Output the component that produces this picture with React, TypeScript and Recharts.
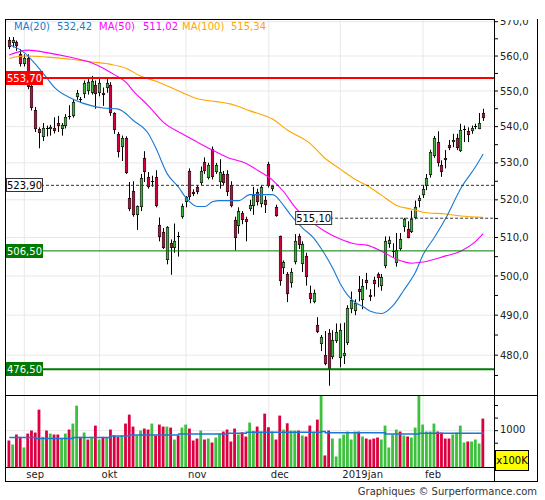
import React from "react";
import {
  Bar,
  CartesianGrid,
  ComposedChart,
  Line,
  ReferenceLine,
  XAxis,
  YAxis,
} from "recharts";

const FONT = '"DejaVu Sans", Verdana, sans-serif';
const PLOT_RIGHT = 494;

const CANDLE_GREEN = "#3cb43c";
const CANDLE_RED = "#d2003c";
const VOL_GREEN = "#3dc03d";
const VOL_RED = "#dc0040";
const MA20_COLOR = "#1a78d4";
const MA50_COLOR = "#ff00ff";
const MA100_COLOR = "#ffa500";

// trading sessions shown, late Aug 2018 -> Feb 2019
const sessions: [string, number[]][] = [
  ["2018-08", [28, 29, 30, 31]],
  ["2018-09", [3, 4, 5, 6, 7, 10, 11, 12, 13, 14, 17, 18, 19, 20, 21, 24, 25, 26, 27, 28]],
  ["2018-10", [1, 2, 3, 4, 5, 8, 9, 10, 11, 12, 15, 16, 17, 18, 19, 22, 23, 24, 25, 26, 29, 30, 31]],
  ["2018-11", [1, 2, 5, 6, 7, 8, 9, 12, 13, 14, 15, 16, 19, 20, 21, 22, 23, 26, 27, 28, 29, 30]],
  ["2018-12", [3, 4, 5, 6, 7, 10, 11, 12, 13, 14, 17, 18, 19, 20, 21, 24, 27, 28, 31]],
  ["2019-01", [2, 3, 4, 7, 8, 9, 10, 11, 14, 15, 16, 17, 18, 21, 22, 23, 24, 25, 28, 29, 30, 31]],
  ["2019-02", [1, 4, 5, 6, 7, 8, 11, 12, 13, 14, 15, 18, 19, 20, 21, 22, 25]],
];
const dates = sessions.flatMap(([m, days]) =>
  days.map((d) => `${m}-${String(d).padStart(2, "0")}`),
);

const monthStarts = ["2018-09-03", "2018-10-01", "2018-11-01", "2018-12-03", "2019-01-02", "2019-02-01"];
const monthLabels = ["sep", "okt", "nov", "dec", "2019jan", "feb"];

const opens = [
  564.7, 563.8, 564.0, 560.7, 557.8, 559.5, 551.4, 544.7, 539.3, 537.0,
  539.7, 539.3, 539.6, 541.1, 539.4, 540.2, 542.6, 543.1, 548.3, 547.8,
  549.2, 550.0, 549.5, 551.7, 549.5, 549.5, 550.8, 551.6, 543.7, 538.0,
  534.3, 536.9, 520.5, 522.5, 516.0, 518.2, 531.2, 526.1, 524.8, 526.1,
  513.3, 511.5, 504.1, 508.5, 507.3, 510.4, 515.4, 519.3, 527.9, 522.0,
  523.4, 524.6, 530.3, 525.9, 533.9, 527.6, 524.8, 527.1, 527.1, 524.0,
  514.6, 513.0, 516.4, 514.8, 517.5, 518.4, 522.0, 518.9, 520.0, 529.8,
  522.8, 518.2, 510.3, 502.0, 500.5, 498.1, 503.5, 510.5, 503.0, 505.2,
  495.7, 493.4, 487.6, 482.7, 480.0, 485.6, 479.6, 483.4, 479.4, 479.9,
  483.0, 491.5, 491.0, 496.6, 493.8, 499.0, 495.2, 499.0, 500.5, 497.5,
  502.6, 508.3, 506.3, 503.4, 507.1, 512.7, 512.2, 511.4, 515.2, 519.6,
  521.2, 523.6, 526.7, 532.0, 535.8, 529.4, 531.2, 534.9, 535.6, 536.9,
  533.3, 539.1, 538.9, 538.8, 540.0, 539.3, 543.7,
];
const highs = [
  565.5, 565.5, 564.5, 562.0, 560.5, 560.5, 551.8, 545.5, 539.8, 541.0,
  540.3, 540.5, 542.6, 543.0, 541.0, 543.5, 546.0, 547.5, 550.3, 548.3,
  553.0, 554.0, 554.3, 553.0, 553.5, 551.0, 553.8, 552.5, 544.0, 538.5,
  537.5, 537.3, 524.8, 525.0, 518.5, 527.0, 533.2, 527.5, 526.5, 528.0,
  515.3, 512.5, 513.0, 509.5, 513.7, 511.5, 519.0, 521.0, 528.5, 522.8,
  524.0, 529.0, 531.5, 530.0, 534.5, 530.0, 531.0, 527.8, 528.0, 525.0,
  515.5, 518.0, 517.0, 515.5, 520.0, 523.5, 523.0, 524.0, 521.0, 530.3,
  524.0, 518.7, 510.5, 504.0, 501.0, 502.0, 510.9, 511.0, 509.0, 506.0,
  497.5, 496.5, 489.5, 485.0, 486.0, 486.5, 486.2, 487.9, 487.9, 488.1,
  492.5, 496.0, 494.0, 500.0, 499.2, 500.8, 496.6, 499.8, 500.9, 500.5,
  510.3, 510.3, 508.5, 511.2, 511.2, 515.2, 514.3, 517.1, 519.8, 521.2,
  524.0, 527.0, 533.6, 537.4, 538.7, 530.7, 533.5, 536.3, 538.0, 538.0,
  540.8, 540.3, 539.8, 540.3, 540.8, 543.8, 545.0,
];
const lows = [
  562.0, 562.5, 561.5, 557.0, 557.0, 550.5, 544.5, 538.5, 534.0, 536.0,
  537.3, 537.5, 538.1, 538.5, 537.5, 539.5, 542.0, 542.5, 547.5, 546.7,
  548.0, 549.0, 549.0, 545.0, 548.5, 545.8, 549.5, 543.0, 538.0, 531.5,
  530.5, 527.0, 517.0, 515.5, 512.0, 517.0, 524.8, 523.0, 523.5, 518.0,
  509.0, 507.0, 503.0, 500.3, 506.0, 505.0, 515.0, 518.0, 520.0, 521.0,
  521.5, 524.0, 527.0, 525.5, 525.5, 527.0, 523.0, 524.0, 521.0, 518.0,
  506.6, 511.0, 513.5, 509.0, 517.0, 516.0, 518.5, 518.0, 516.5, 523.3,
  522.3, 515.5, 497.5, 500.5, 493.3, 497.0, 503.0, 507.0, 501.0, 497.5,
  493.0, 493.0, 485.5, 481.0, 477.5, 472.5, 479.0, 483.0, 477.0, 477.8,
  482.5, 490.5, 490.0, 493.5, 491.5, 496.5, 493.6, 494.7, 497.1, 496.2,
  502.0, 507.3, 504.7, 502.4, 506.5, 511.5, 509.8, 511.2, 514.8, 518.0,
  520.5, 522.6, 526.0, 531.4, 529.0, 526.2, 528.5, 533.5, 534.3, 533.5,
  533.0, 535.7, 535.7, 538.0, 539.3, 539.3, 541.6,
];
const closes = [
  562.7, 564.7, 562.9, 557.6, 559.5, 551.0, 545.2, 539.2, 538.1, 539.7,
  539.2, 540.0, 538.8, 540.2, 540.5, 542.8, 543.1, 547.0, 549.4, 547.6,
  552.4, 552.7, 552.9, 549.2, 552.4, 548.9, 552.4, 543.7, 539.0, 533.0,
  536.9, 527.3, 517.5, 516.0, 518.3, 526.0, 527.5, 523.4, 525.1, 518.4,
  510.1, 507.3, 512.7, 507.3, 509.0, 510.2, 518.4, 520.7, 520.8, 521.5,
  522.0, 527.9, 527.9, 529.3, 526.2, 529.3, 527.6, 524.6, 522.0, 518.4,
  509.8, 517.0, 514.5, 514.2, 518.7, 521.4, 519.3, 523.4, 518.7, 523.6,
  523.6, 515.7, 498.8, 503.5, 495.3, 501.0, 509.2, 508.0, 508.2, 499.8,
  494.0, 495.7, 485.8, 484.6, 477.9, 476.7, 483.7, 485.8, 486.2, 480.6,
  491.8, 493.8, 493.2, 495.8, 497.5, 498.3, 494.5, 497.8, 499.5, 499.6,
  509.0, 509.4, 506.5, 506.8, 509.6, 514.8, 510.0, 514.8, 518.2, 520.4,
  523.0, 525.9, 532.9, 536.8, 530.0, 527.5, 530.9, 534.0, 536.2, 534.0,
  539.1, 539.3, 537.7, 539.7, 540.2, 540.9, 542.4,
];

// volume, x100K
const volumes = [
  804, 724, 923, 877, 665, 942, 1002, 962, 1419, 877,
  1002, 942, 923, 923, 857, 942, 1022, 1141, 1498, 877,
  962, 823, 877, 1101, 823, 877, 857, 1022, 903, 877,
  903, 1141, 1319, 1081, 903, 1002, 1042, 1022, 1141, 903,
  1121, 1081, 1081, 1061, 823, 903, 1061, 1121, 1042, 804,
  843, 1002, 823, 843, 764, 863, 942, 982, 1022, 784,
  1042, 923, 968, 883, 1161, 996, 1081, 982, 1339, 1068,
  982, 823, 1300, 1022, 1147, 1002, 1002, 1002, 903, 883,
  1101, 962, 1220, 1800, 506, 1002, 843, 486, 843, 923,
  982, 823, 982, 982, 883, 843, 823, 843, 863, 823,
  1101, 665, 923, 1022, 982, 903, 883, 863, 1061, 1800,
  1121, 982, 982, 1141, 982, 962, 843, 843, 923, 962,
  1101, 764, 784, 784, 823, 744, 1240,
];
// G = up day, R = down day
const volDir =
  "RGRRGRRRRG" + "RGRRGGRGGR" + "GRGRGRGRRR" + "GRRRGGRRGR" + "RRGRGRGGRR" +
  "RGRGRGGRRR" + "RGRRGGRGRR" + "GRRGRGGRGR" + "RGRGRRGGGG" + "GGGRGRRRRG" +
  "GGGGRGRGGG" + "GGGGRRRRGG" + "GGRGGGR";

// moving averages: [session index, value]
const ma20Pts: [number, number][] = [
  [0, 563.3], [4, 561], [7, 557.6], [10, 553.7], [12, 551], [17, 547.7], [22, 545.8],
  [25, 545.2], [29, 544.9], [33, 541.7], [37, 538], [39, 534], [42, 527], [45, 523.4],
  [47, 520.5], [50, 518.2], [52, 518.2], [54, 519.5], [56, 519.8], [61, 519.8],
  [64, 521.4], [70, 521.4], [73, 518.4], [75, 515.7], [78, 512.5], [81, 509.8],
  [83, 507], [86, 502], [88, 498], [90, 495], [92, 493.2], [94, 492.2], [96, 491],
  [99, 490.4], [102, 492.4], [105, 496.5], [108, 501], [110, 505.5], [113, 510],
  [116, 515], [120, 523], [124, 529], [126, 532.42],
];
const ma50Pts: [number, number][] = [
  [0, 560.3], [5, 561.7], [10, 561], [16, 559.7], [22, 558], [25, 556.5], [28, 554.6],
  [31, 552.5], [33, 550], [37, 545.8], [41, 541.2], [46, 538], [50, 535.7], [54, 533.5],
  [58, 531.5], [63, 529.8], [66, 528], [70, 525.3], [73, 522.1], [76, 518], [80, 514.4],
  [84, 511.6], [88, 509.6], [92, 508.3], [95, 508], [99, 506.4], [103, 504.3],
  [107, 503.3], [110, 503.6], [116, 505.2], [120, 506.4], [124, 509], [126, 511.02],
];
const ma100Pts: [number, number][] = [
  [0, 559.3], [4, 560], [10, 559.7], [17, 559], [22, 558.3], [27, 557.6], [31, 556.5],
  [35, 554.2], [39, 552.8], [45, 550], [50, 547.8], [55, 547], [59, 546.3], [64, 544.4],
  [70, 542.1], [74, 539], [80, 535.3], [84, 531.2], [88, 528.3], [92, 525.5], [95, 523.9],
  [99, 521.2], [103, 518.5], [107, 517.5], [110, 516.7], [116, 516.2], [120, 515.7],
  [126, 515.34],
];
// average volume, drawn as steps
const volAvgPts: [number, number][] = [
  [0, 865], [7, 845], [17, 865], [27, 891], [32, 911], [45, 931], [58, 950], [63, 970],
  [83, 985], [84, 960], [100, 931], [109, 950], [125, 950], [126, 931],
];

const priceTicks = [
  475, 480, 485, 490, 495, 500, 505, 510, 515, 520, 525, 530, 535, 540, 545, 550, 555,
  560, 565, 570,
];
const priceGrid = [480, 490, 500, 510, 520, 530, 540, 550, 560, 570];
const volTicks = [500, 750, 1000, 1250, 1500];

const rows: any[] = dates.map((date, i) => ({
  date,
  open: opens[i],
  high: highs[i],
  low: lows[i],
  close: closes[i],
  vol: volumes[i],
  volUp: volDir[i] === "G",
}));
ma20Pts.forEach(([i, v]) => (rows[i].ma20 = v));
ma50Pts.forEach(([i, v]) => (rows[i].ma50 = v));
ma100Pts.forEach(([i, v]) => (rows[i].ma100 = v));
volAvgPts.forEach(([i, v]) => (rows[i].volAvg = v));

const comma = (v: number, d: number) => v.toFixed(d).replace(".", ",");
const last = (pts: [number, number][]) => pts[pts.length - 1][1];

function Candle(props: any) {
  const { x, y, width, height, payload } = props;
  if (payload == null || x == null) return <g />;
  const top = Math.min(y, y + height);
  const bottom = Math.max(y, y + height);
  const { open, close, high, low } = payload;
  const span = Math.log(high / low) || 1;
  // log axis: place open/close between the high and low pixels
  const at = (v: number) => top + ((bottom - top) * Math.log(high / v)) / span;
  const cx = Math.round(x + width / 2);
  const bTop = Math.round(at(Math.max(open, close)));
  const bBot = Math.max(bTop + 1, Math.round(at(Math.min(open, close))));
  const fill = close >= open ? CANDLE_GREEN : CANDLE_RED;
  const h = bBot - bTop;
  return (
    <g>
      <rect x={cx} y={top} width={1} height={bottom - top} fill="#000" />
      {h > 1 ? (
        <rect
          x={cx - 0.75}
          y={bTop + 0.25}
          width={2.5}
          height={h - 0.5}
          fill={fill}
          stroke="#000"
          strokeWidth={0.6}
        />
      ) : (
        <rect x={cx - 1} y={bTop} width={3} height={1} fill="#000" />
      )}
    </g>
  );
}

function VolBar(props: any) {
  const { x, y, width, height, payload } = props;
  if (payload == null || x == null) return <g />;
  const cx = x + width / 2;
  return (
    <rect
      x={cx - 1.4}
      y={Math.min(y, y + height)}
      width={2.8}
      height={Math.abs(height)}
      fill={payload.volUp ? VOL_GREEN : VOL_RED}
    />
  );
}

function PriceTick(props: any) {
  const { x, y, payload } = props;
  const v = payload.value as number;
  if (v % 10 !== 0) return <g />;
  return (
    <text x={x} y={y} dy={3.6} fontSize={10} fontFamily={FONT} fill="#222" textAnchor="start">
      {comma(v, 1)}
    </text>
  );
}

function VolTick(props: any) {
  const { x, y, payload } = props;
  if (payload.value !== 1000) return <g />;
  return (
    <text x={x} y={y} dy={2.5} fontSize={10} fontFamily={FONT} fill="#222" textAnchor="start">
      {payload.value}
    </text>
  );
}

function MonthTick(props: any) {
  const { x, y, payload } = props;
  const label = monthLabels[monthStarts.indexOf(payload.value)];
  return (
    <text x={x + 2} y={y + 10.4} fontSize={10} fontFamily={FONT} fill="#222" textAnchor="start">
      {label}
    </text>
  );
}

function Tag({ viewBox, text, bg, fg, border }: any) {
  if (!viewBox) return null;
  const { x, y } = viewBox;
  return (
    <g>
      <rect
        x={x + 0.5}
        y={Math.round(y) - 6.5}
        width={36}
        height={13}
        fill={bg}
        stroke={border ?? bg}
        strokeWidth={1}
      />
      <text x={x + 18.5} y={Math.round(y) + 3.8} textAnchor="middle" fontSize={10} fontFamily={FONT} fill={fg}>
        {text}
      </text>
    </g>
  );
}

const xAxisCommon = {
  dataKey: "date",
  type: "category" as const,
  padding: { left: 1.4, right: 8.9 },
  ticks: monthStarts,
  interval: 0 as const,
};

function PricePanel() {
  return (
    <ComposedChart width={545} height={376} data={rows} margin={{ top: 0, right: 0, bottom: 0, left: 6 }}>
      <CartesianGrid
        stroke="#e8e8e8"
        horizontalValues={priceGrid}
        verticalValues={monthStarts}
      />
      <XAxis {...xAxisCommon} hide />
      <YAxis
        orientation="right"
        width={51}
        scale="log"
        type="number"
        domain={[470, 570.5]}
        allowDataOverflow
        ticks={priceTicks}
        interval={0}
        tick={<PriceTick />}
        tickSize={4}
        tickMargin={2}
        tickLine={{ stroke: "#000" }}
        axisLine={false}
      />
      <Bar
        dataKey={(d: any) => [d.low, d.high]}
        barSize={3}
        shape={<Candle />}
        isAnimationActive={false}
      />
      <Line dataKey="ma100" type="monotone" stroke={MA100_COLOR} strokeWidth={1.1} dot={false} connectNulls isAnimationActive={false} />
      <Line dataKey="ma50" type="monotone" stroke={MA50_COLOR} strokeWidth={1.1} dot={false} connectNulls isAnimationActive={false} />
      <Line dataKey="ma20" type="monotone" stroke={MA20_COLOR} strokeWidth={1.1} dot={false} connectNulls isAnimationActive={false} />

      <ReferenceLine
        y={553.7}
        stroke="#ff0000"
        strokeWidth={2}
        label={(p: any) => <Tag viewBox={p.viewBox} text={comma(553.7, 2)} bg="#ff0000" fg="#fff" />}
      />
      <ReferenceLine
        y={523.9}
        stroke="#333"
        strokeDasharray="3 2"
        label={(p: any) => <Tag viewBox={p.viewBox} text={comma(523.9, 2)} bg="#fff" fg="#000" border="#333" />}
      />
      <ReferenceLine
        segment={[
          { x: "2018-12-12", y: 515.1 },
          { x: "2019-02-25", y: 515.1 },
        ]}
        shape={(p: any) => (
          <line x1={p.x1} y1={p.y1} x2={PLOT_RIGHT} y2={p.y2} stroke="#333" strokeDasharray="3 2" />
        )}
        label={(p: any) => <Tag viewBox={p.viewBox} text={comma(515.1, 2)} bg="#fff" fg="#000" border="#333" />}
      />
      <ReferenceLine
        y={506.5}
        stroke="#007a00"
        strokeWidth={1}
        label={(p: any) => <Tag viewBox={p.viewBox} text={comma(506.5, 2)} bg="#007a00" fg="#fff" />}
      />
      <ReferenceLine
        y={476.5}
        stroke="#007a00"
        strokeWidth={2}
        label={(p: any) => <Tag viewBox={p.viewBox} text={comma(476.5, 2)} bg="#007a00" fg="#fff" />}
      />
    </ComposedChart>
  );
}

function VolumePanel() {
  return (
    <ComposedChart width={545} height={86} data={rows} margin={{ top: 0, right: 0, bottom: 0, left: 6 }}>
      <CartesianGrid stroke="#e8e8e8" horizontalValues={[1000]} verticalValues={monthStarts} />
      <XAxis
        {...xAxisCommon}
        height={14.7}
        tick={<MonthTick />}
        tickLine={false}
        axisLine={false}
        tickSize={0}
        tickMargin={0}
      />
      <YAxis
        orientation="right"
        width={51}
        type="number"
        domain={[270, 1690]}
        allowDataOverflow
        ticks={volTicks}
        interval={0}
        tick={<VolTick />}
        tickSize={4}
        tickMargin={2}
        tickLine={{ stroke: "#000" }}
        axisLine={false}
      />
      <Bar dataKey="vol" barSize={3} shape={<VolBar />} isAnimationActive={false} />
      <Line
        dataKey="volAvg"
        type="stepAfter"
        stroke={MA20_COLOR}
        strokeWidth={1.5}
        dot={false}
        connectNulls
        isAnimationActive={false}
      />
    </ComposedChart>
  );
}

const line = (left: number, top: number, width: number, height: number) => (
  <div
    key={`${left}-${top}-${width}-${height}`}
    style={{ position: "absolute", left, top, width, height, background: "#000" }}
  />
);

export default function App() {
  const legend = [
    { text: "MA(20)", left: 14, color: MA20_COLOR },
    { text: comma(last(ma20Pts), 2), left: 57, color: MA20_COLOR },
    { text: "MA(50)", left: 99, color: MA50_COLOR },
    { text: comma(last(ma50Pts), 2), left: 143, color: MA50_COLOR },
    { text: "MA(100)", left: 182, color: MA100_COLOR },
    { text: comma(last(ma100Pts), 2), left: 231, color: MA100_COLOR },
  ];
  return (
    <div
      style={{
        position: "absolute",
        left: 0,
        top: 0,
        width: 545,
        height: 500,
        background: "#fff",
        fontFamily: FONT,
        overflow: "hidden",
      }}
    >
      <div style={{ position: "absolute", left: 0, top: 20 }}>
        <PricePanel />
      </div>
      <div style={{ position: "absolute", left: 0, top: 396 }}>
        <VolumePanel />
      </div>

      {legend.map((l) => (
        <span
          key={l.text + l.left}
          style={{
            position: "absolute",
            left: l.left,
            top: 21,
            fontSize: 10,
            lineHeight: "12px",
            color: l.color,
            whiteSpace: "nowrap",
          }}
        >
          {l.text}
        </span>
      ))}

      {line(5, 19, 490, 1)}
      {line(5, 19, 1, 463)}
      {line(494, 19, 1, 463)}
      {line(537, 19, 1, 463)}
      {line(5, 395, 533, 1)}
      {line(5, 467, 490, 1)}
      {line(5, 481, 533, 1)}

      <div
        style={{
          position: "absolute",
          left: 495,
          top: 450,
          width: 32,
          height: 19,
          background: "#ffff00",
          border: "1px solid #000",
          fontSize: 10,
          lineHeight: "19px",
          textAlign: "center",
          color: "#000",
        }}
      >
        x100K
      </div>

      <div
        style={{
          position: "absolute",
          right: 8,
          top: 485,
          fontSize: 10,
          lineHeight: "13px",
          color: "#333",
          whiteSpace: "nowrap",
        }}
      >
        Graphiques © Surperformance.com
      </div>
    </div>
  );
}
